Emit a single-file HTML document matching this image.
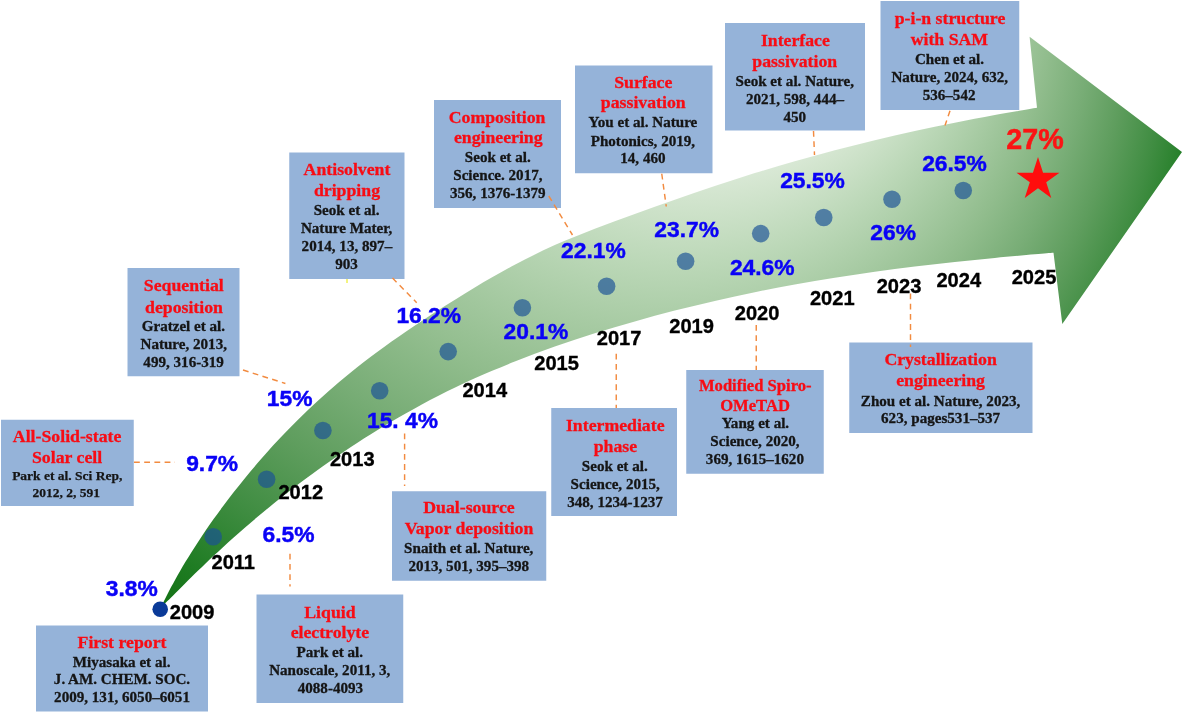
<!DOCTYPE html>
<html><head><meta charset="utf-8"><title>Perovskite solar cell efficiency timeline</title>
<style>
html,body{margin:0;padding:0;background:#fff;}
svg{display:block}
text{font-family:"Liberation Serif",serif;font-weight:bold;text-anchor:middle}
.r{fill:#f80c14;font-size:17.75px;stroke:#f80c14;stroke-width:.3px}
.r2{fill:#f80c14;font-size:16.6px;stroke:#f80c14;stroke-width:.3px}
.k{fill:#151515;font-size:15.1px;stroke:#151515;stroke-width:.3px}
.k2{fill:#151515;font-size:13.5px;stroke:#151515;stroke-width:.25px}
.p{font-family:"Liberation Sans",sans-serif;fill:#0a02f6;font-size:22.8px;stroke:#0a02f6;stroke-width:.45px}
.y{font-family:"Liberation Sans",sans-serif;fill:#000;font-size:20.1px;stroke:#000;stroke-width:.35px}
.big{font-family:"Liberation Sans",sans-serif;fill:#fb1414;font-size:28.7px;stroke:#fb1414;stroke-width:.5px}
.bx{fill:#95b3d9}
.ds{stroke:#f28b40;stroke-width:1.45;stroke-dasharray:5.8 4.4;fill:none}
.dot{fill:#1a5097;fill-opacity:.67}
</style></head><body>
<svg width="1183" height="713" viewBox="0 0 1183 713">
<defs>
<radialGradient id="g" gradientUnits="userSpaceOnUse" cx="272.6" cy="191.3" r="1438.3" fx="787" fy="-100">
<stop offset="0.13" stop-color="#eaf3e9"/>
<stop offset="0.17" stop-color="#d3e5cf"/>
<stop offset="0.21" stop-color="#bcd8b8"/>
<stop offset="0.25" stop-color="#a6caa2"/>
<stop offset="0.29" stop-color="#90bc8c"/>
<stop offset="0.33" stop-color="#78ad76"/>
<stop offset="0.37" stop-color="#5e9d5d"/>
<stop offset="0.41" stop-color="#408d42"/>
<stop offset="0.45" stop-color="#1f7c23"/>
<stop offset="0.475" stop-color="#137214"/>
<stop offset="0.5" stop-color="#106e11"/>
</radialGradient>
</defs>
<rect width="1183" height="713" fill="#fff"/>
<path d="M161,607.5C161.5,606.4 162.9,603.3 164.0,601.1C165.1,598.9 166.2,596.6 167.4,594.3C168.5,592.0 169.8,589.6 171.1,587.1C172.5,584.6 173.8,582.0 175.3,579.4C176.8,576.7 178.4,573.9 180.1,571.1C181.7,568.2 183.5,565.2 185.3,562.1C187.2,559.0 189.2,555.9 191.3,552.5C193.4,549.2 195.6,545.8 197.9,542.2C200.2,538.6 202.7,534.9 205.3,531.1C208.0,527.2 210.7,523.2 213.6,519.1C216.6,515.0 219.7,510.7 223.0,506.3C226.3,501.9 229.7,497.3 233.4,492.6C237.1,487.8 241.0,482.9 245.1,477.9C249.2,472.9 253.6,467.7 258.2,462.3C262.8,457.0 267.7,451.5 272.8,445.8C278.0,440.2 283.5,434.4 289.3,428.5C295.1,422.6 301.2,416.5 307.7,410.3C314.1,404.1 321.0,397.8 328.2,391.4C335.5,385.0 343.2,378.5 351.3,372.0C359.5,365.4 368.0,358.8 377.2,352.1C386.3,345.3 395.9,338.5 406.1,331.6C416.3,324.6 427.1,317.5 438.5,310.1C450.0,302.8 462.1,295.1 474.8,287.5C487.5,280.0 501.5,271.8 514.8,264.8C528.1,257.7 541.5,251.2 554.8,245.1C568.1,239.1 581.5,233.9 594.8,228.7C608.1,223.5 621.5,218.8 634.8,214.0C648.1,209.1 661.5,204.4 674.8,199.8C688.1,195.2 701.5,190.5 714.8,186.1C728.1,181.6 741.5,177.3 754.8,173.1C768.1,169.0 781.5,165.0 794.8,161.2C808.1,157.4 821.5,153.7 834.8,150.2C848.1,146.8 861.5,143.4 874.8,140.2C888.1,137.1 901.5,134.0 914.8,131.1C928.1,128.2 941.5,125.4 954.8,122.7C968.1,120.1 981.1,117.6 994.8,115.1C1008.5,112.6 1030.0,109.0 1037.0,107.8L1029.6,36.8 L1182,152 L1062.3,324 L1053.5,252.8C1050.4,253.0 1044.6,253.4 1034.8,254.3C1025.0,255.1 1008.1,256.6 994.8,257.9C981.5,259.1 968.1,260.5 954.8,261.9C941.5,263.4 928.1,264.9 914.8,266.5C901.5,268.2 888.1,269.9 874.8,271.8C861.5,273.7 848.1,275.6 834.8,277.7C821.5,279.9 808.1,282.1 794.8,284.5C781.5,286.9 768.1,289.5 754.8,292.2C741.5,294.9 728.1,297.8 714.8,300.9C701.5,304.0 688.1,307.2 674.8,310.6C661.5,314.0 648.1,317.6 634.8,321.4C621.5,325.2 608.1,329.1 594.8,333.3C581.5,337.5 568.1,341.9 554.8,346.6C541.5,351.3 528.1,356.2 514.8,361.5C501.5,366.8 487.5,372.6 474.8,378.3C462.1,384.0 450.0,389.9 438.5,395.7C427.1,401.5 416.3,407.4 406.1,413.2C395.9,418.9 386.3,424.7 377.2,430.3C368.0,435.9 359.5,441.4 351.3,446.8C343.2,452.1 335.5,457.4 328.2,462.5C321.0,467.6 314.1,472.5 307.7,477.3C301.2,482.1 295.1,486.7 289.3,491.2C283.5,495.7 278.0,500.0 272.8,504.2C267.7,508.4 262.8,512.4 258.2,516.3C253.6,520.2 249.2,523.9 245.1,527.4C241.0,531.0 237.1,534.4 233.4,537.7C229.7,541.0 226.3,544.1 223.0,547.2C219.7,550.2 216.6,553.0 213.6,555.8C210.7,558.5 208.0,561.2 205.3,563.7C202.7,566.2 200.2,568.5 197.9,570.8C195.6,573.1 193.4,575.2 191.3,577.3C189.2,579.4 187.2,581.3 185.3,583.2C183.5,585.0 181.7,586.8 180.1,588.4C178.4,590.1 176.8,591.7 175.3,593.2C173.8,594.7 172.5,596.1 171.1,597.4C169.8,598.7 168.5,599.9 167.4,601.1C166.2,602.3 165.1,603.3 164.0,604.4C162.9,605.4 161.5,607.0 161.0,607.5Z" fill="url(#g)"/>

<circle class="dot" cx="213.2" cy="536.8" r="8.8"/>
<circle class="dot" cx="266.6" cy="479.2" r="8.8"/>
<circle class="dot" cx="322.9" cy="430.5" r="8.8"/>
<circle class="dot" cx="379.7" cy="390.8" r="8.8"/>
<circle class="dot" cx="448.2" cy="351.6" r="8.8"/>
<circle class="dot" cx="522.4" cy="307.8" r="8.8"/>
<circle class="dot" cx="606.6" cy="286.2" r="8.8"/>
<circle class="dot" cx="685.6" cy="261.3" r="8.8"/>
<circle class="dot" cx="760.7" cy="233.6" r="8.8"/>
<circle class="dot" cx="823.75" cy="217.5" r="8.8"/>
<circle class="dot" cx="892" cy="199.25" r="8.8"/>
<circle class="dot" cx="963.25" cy="190.5" r="8.8"/>
<circle cx="160.2" cy="609.3" r="7.8" fill="#0a3a98"/>
<rect class="bx" x="36" y="625.5" width="172.00" height="86.00"/>
<text class="r" x="122" y="648">First report</text>
<text class="k" x="121.6" y="666.75">Miyasaka et al.</text>
<text class="k" x="122" y="684.25">J. AM. CHEM. SOC.</text>
<text class="k" x="122" y="702">2009, 131, 6050–6051</text>
<rect class="bx" x="256.5" y="594.5" width="146.75" height="108.50"/>
<text class="r" x="329.9" y="617.5">Liquid</text>
<text class="r" x="329.9" y="638.25">electrolyte</text>
<text class="k" x="329.75" y="657">Park et al.</text>
<text class="k" x="329.75" y="675">Nanoscale, 2011, 3,</text>
<text class="k" x="330.4" y="693">4088-4093</text>
<rect class="bx" x="1" y="419.75" width="132.75" height="86.25"/>
<text class="r" x="67.1" y="441.5">All-Solid-state</text>
<text class="r" x="67.1" y="463">Solar cell</text>
<text class="k2" x="67.25" y="480.25">Park et al. Sci Rep,</text>
<text class="k2" x="66.25" y="496.5">2012, 2, 591</text>
<rect class="bx" x="127.5" y="268" width="112.00" height="108.25"/>
<text class="r" x="183.75" y="290.75">Sequential</text>
<text class="r" x="184" y="312.5">deposition</text>
<text class="k" x="183.4" y="330.75">Gratzel et al.</text>
<text class="k" x="183.75" y="348.75">Nature, 2013,</text>
<text class="k" x="183.6" y="366.75">499, 316-319</text>
<rect class="bx" x="289.25" y="152.5" width="115.25" height="126.50"/>
<text class="r" x="347" y="174.5">Antisolvent</text>
<text class="r" x="347" y="195.75">dripping</text>
<text class="k" x="346.6" y="214.5">Seok et al.</text>
<text class="k" x="346.6" y="232.5">Nature Mater,</text>
<text class="k" x="346.9" y="250.75">2014, 13, 897–</text>
<text class="k" x="346.6" y="268.75">903</text>
<rect class="bx" x="434" y="100" width="127.00" height="108.00"/>
<text class="r" x="497.1" y="122.5">Composition</text>
<text class="r" x="498.25" y="143.25">engineering</text>
<text class="k" x="497.75" y="162">Seok et al.</text>
<text class="k" x="497.9" y="180">Science. 2017,</text>
<text class="k" x="497.75" y="198">356, 1376-1379</text>
<rect class="bx" x="575" y="65.5" width="137.50" height="107.75"/>
<text class="r" x="643.25" y="87.5">Surface</text>
<text class="r" x="643.25" y="108.25">passivation</text>
<text class="k" x="642.9" y="127">You et al. Nature</text>
<text class="k" x="642.9" y="145.5">Photonics, 2019,</text>
<text class="k" x="642.9" y="163.25">14, 460</text>
<rect class="bx" x="725" y="23" width="140.00" height="107.50"/>
<text class="r" x="795.4" y="45.75">Interface</text>
<text class="r" x="794.75" y="67">passivation</text>
<text class="k" x="794.75" y="85.5">Seok et al. Nature,</text>
<text class="k" x="795" y="103.75">2021, 598, 444–</text>
<text class="k" x="794.75" y="121.75">450</text>
<rect class="bx" x="880.5" y="1" width="138.75" height="109.00"/>
<text class="r" x="950" y="24.25">p-i-n structure</text>
<text class="r" x="949.4" y="45">with SAM</text>
<text class="k" x="949.5" y="63.75">Chen et al.</text>
<text class="k" x="949.75" y="82">Nature, 2024, 632,</text>
<text class="k" x="949.1" y="100">536–542</text>
<rect class="bx" x="392" y="491.25" width="154.25" height="89.50"/>
<text class="r" x="469" y="513">Dual-source</text>
<text class="r" x="469" y="534.25">Vapor deposition</text>
<text class="k" x="468.75" y="553">Snaith et al. Nature,</text>
<text class="k" x="468.75" y="570.75">2013, 501, 395–398</text>
<rect class="bx" x="551.25" y="408" width="125.75" height="108.00"/>
<text class="r" x="615.25" y="430.5">Intermediate</text>
<text class="r" x="615.4" y="452">phase</text>
<text class="k" x="614.75" y="470.75">Seok et al.</text>
<text class="k" x="615.25" y="488.75">Science, 2015,</text>
<text class="k" x="615" y="506.75">348, 1234-1237</text>
<rect class="bx" x="686.25" y="370" width="137.50" height="103.75"/>
<text class="r2" x="755.25" y="390.5">Modified Spiro-</text>
<text class="r2" x="755" y="410.5">OMeTAD</text>
<text class="k" x="755.4" y="428">Yang et al.</text>
<text class="k" x="755" y="446.25">Science, 2020,</text>
<text class="k" x="754.9" y="464.25">369, 1615–1620</text>
<rect class="bx" x="849.25" y="342.5" width="183.25" height="90.50"/>
<text class="r" x="940.6" y="364.5">Crystallization</text>
<text class="r" x="940.6" y="386.25">engineering</text>
<text class="k" x="940.6" y="405.5">Zhou et al. Nature, 2023,</text>
<text class="k" x="940.6" y="423.25">623, pages531–537</text>
<path class="ds" d="M290,553.75L290,586.5"/>
<path class="ds" d="M134,462.25L175,462.25"/>
<path class="ds" d="M243,370L285.4,383.5"/>
<path class="ds" d="M404.6,433.5L404.6,486"/>
<path class="ds" d="M392.5,278L416.7,302.7"/>
<path class="ds" d="M548.75,196L572.5,235"/>
<path class="ds" d="M661.75,173.75L666.25,206.5"/>
<path class="ds" d="M813.5,131L814.5,155"/>
<path class="ds" d="M950,110.75L945,125.5"/>
<path class="ds" d="M616.25,353.75L616.25,408"/>
<path class="ds" d="M756.25,325L756.25,370"/>
<path class="ds" d="M910.5,293.5L910.5,347"/>
<text class="p" x="131.75" y="596.2">3.8%</text>
<text class="p" x="288.45" y="542.2">6.5%</text>
<text class="p" x="212.12" y="471">9.7%</text>
<text class="p" x="289.62" y="405.5">15%</text>
<text class="p" x="402.50" y="427.5">15. 4%</text>
<text class="p" x="428.75" y="322.5">16.2%</text>
<text class="p" x="535.88" y="339.25">20.1%</text>
<text class="p" x="593.38" y="258">22.1%</text>
<text class="p" x="686.62" y="236.75">23.7%</text>
<text class="p" x="762.25" y="275">24.6%</text>
<text class="p" x="812.50" y="187.5">25.5%</text>
<text class="p" x="893.12" y="239.5">26%</text>
<text class="p" x="954.50" y="171.25">26.5%</text>
<text class="y" x="192.12" y="619.1">2009</text>
<text class="y" x="233.25" y="568.75">2011</text>
<text class="y" x="300.75" y="498.5">2012</text>
<text class="y" x="352.25" y="466.25">2013</text>
<text class="y" x="484.75" y="397">2014</text>
<text class="y" x="556.62" y="369.5">2015</text>
<text class="y" x="619.12" y="345">2017</text>
<text class="y" x="691.62" y="332.5">2019</text>
<text class="y" x="757.12" y="319.5">2020</text>
<text class="y" x="832.25" y="304.5">2021</text>
<text class="y" x="899.00" y="293">2023</text>
<text class="y" x="958.75" y="287">2024</text>
<text class="y" x="1034.00" y="283.5">2025</text>
<text class="big" x="1035" y="148.75">27%</text>
<polygon points="1038.00,157.10 1043.07,172.72 1059.49,172.72 1046.21,182.37 1051.28,197.98 1038.00,188.33 1024.72,197.98 1029.79,182.37 1016.51,172.72 1032.93,172.72" fill="#ff0d0d"/>
<path d="M347,279v4" stroke="#e8e800" stroke-width="1"/>
</svg></body></html>
